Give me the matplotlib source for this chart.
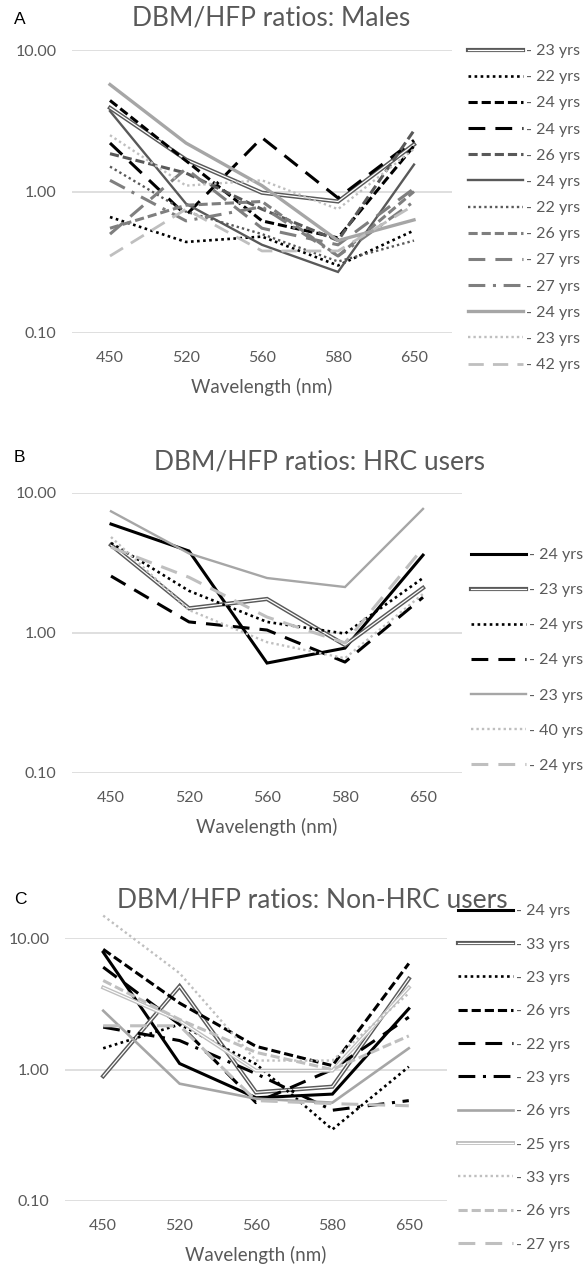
import numpy as np
import matplotlib
matplotlib.use("Agg")
import matplotlib.pyplot as plt
from matplotlib.legend_handler import HandlerTuple

plt.rcParams['font.family'] = ['Lato', 'DejaVu Sans']

wavelengths = ["450", "520", "560", "580", "650"]

# --- Males ---
males_ages = ["23", "22", "24", "24", "26", "24", "22", "26", "27", "27", "24", "23", "42"]
males_vals = [
    [3.9, 1.68, 0.98, 0.85, 2.15],
    [0.66, 0.44, 0.48, 0.30, 0.53],
    [4.4, 1.65, 0.62, 0.47, 2.1],
    [2.2, 0.68, 2.4, 0.90, 2.3],
    [1.85, 1.35, 0.75, 0.45, 2.7],
    [3.7, 0.82, 0.42, 0.27, 1.55],
    [1.5, 0.72, 0.50, 0.32, 0.45],
    [0.55, 0.80, 0.85, 0.35, 1.0],
    [0.50, 1.45, 0.55, 0.42, 1.05],
    [1.2, 0.62, 0.78, 0.35, 0.85],
    [5.7, 2.2, 1.1, 0.45, 0.63],
    [2.5, 1.1, 1.2, 0.75, 2.0],
    [0.35, 0.75, 0.38, 0.38, 0.80],
]

# --- HRC users ---
hrc_ages = ["24", "23", "24", "24", "23", "40", "24"]
hrc_vals = [
    [6.0, 3.85, 0.61, 0.78, 3.6],
    [4.25, 1.5, 1.75, 0.82, 2.1],
    [4.4, 2.0, 1.2, 0.99, 2.47],
    [2.55, 1.2, 1.05, 0.62, 1.8],
    [7.4, 3.7, 2.47, 2.13, 7.7],
    [4.85, 1.46, 0.86, 0.66, 1.9],
    [4.1, 2.5, 1.3, 0.85, 4.05],
]

# --- Non-HRC users ---
non_ages = ["24", "33", "23", "26", "22", "23", "26", "25", "33", "26", "27"]
non_vals = [
    [7.8, 1.11, 0.61, 0.65, 2.9],
    [0.89, 4.3, 0.67, 0.74, 4.9],
    [1.45, 2.2, 1.1, 0.35, 1.05],
    [8.2, 3.2, 1.5, 1.07, 6.4],
    [6.0, 2.2, 0.56, 1.0, 2.5],
    [2.1, 1.66, 0.93, 0.49, 0.58],
    [2.8, 0.78, 0.60, 0.56, 1.45],
    [4.2, 2.35, 0.98, 0.98, 4.2],
    [14.8, 5.4, 1.17, 1.17, 3.8],
    [4.75, 2.4, 1.35, 1.0, 1.8],
    [2.15, 2.15, 0.58, 0.55, 0.53],
]

BLACK = "#000000"
DARK = "#595959"
MID = "#7f7f7f"
LIGHT = "#a6a6a6"
PALE = "#bfbfbf"
TXT = "#595959"

DOT = (0, (1, 1.3))
SDASH = (0, (3, 1.3))
LDASH = (0, (5.5, 3.3))
DASHDOT = (0, (5.5, 2.5, 1, 2.5))

# (colour, linestyle, linewidth, double)
males_sty = [
    (DARK, "-", 3.0, True), (BLACK, DOT, 1.9, False), (BLACK, SDASH, 2.2, False),
    (BLACK, LDASH, 2.2, False), (DARK, SDASH, 2.2, False), (DARK, "-", 1.7, False),
    (DARK, DOT, 1.7, False), (MID, SDASH, 2.2, False), (MID, LDASH, 2.2, False),
    (MID, DASHDOT, 2.2, False), (LIGHT, "-", 2.4, False), (PALE, DOT, 1.7, False),
    (PALE, LDASH, 2.0, False),
]
hrc_sty = [
    (BLACK, "-", 2.2, False), (DARK, "-", 3.0, True), (BLACK, DOT, 1.9, False),
    (BLACK, LDASH, 2.2, False), (LIGHT, "-", 1.7, False), (PALE, DOT, 1.7, False),
    (PALE, LDASH, 2.2, False),
]
non_sty = [
    (BLACK, "-", 2.2, False), (DARK, "-", 3.0, True), (BLACK, DOT, 1.9, False),
    (BLACK, SDASH, 2.2, False), (BLACK, LDASH, 2.2, False), (BLACK, DASHDOT, 2.2, False),
    (LIGHT, "-", 1.9, False), (PALE, "-", 2.8, True), (PALE, DOT, 1.7, False),
    (PALE, SDASH, 2.2, False), (PALE, LDASH, 2.2, False),
]

W, H = 586, 1268
fig = plt.figure(figsize=(W / 100, H / 100), dpi=100)


def px_axes(left, top, right, bottom):
    return fig.add_axes([left / W, 1 - bottom / H, (right - left) / W, (bottom - top) / H])


def draw_panel(ax, vals, ages, styles, letter, title, title_xy, letter_y,
               legend_xy, spacing):
    x = np.arange(len(wavelengths))
    handles = []
    for v, (c, ls, lw, dbl) in zip(vals, styles):
        ln, = ax.plot(x, v, color=c, ls=ls, lw=lw, clip_on=False,
                      solid_joinstyle="miter", dash_capstyle="butt")
        if dbl:
            inner, = ax.plot(x, v, color="white", lw=lw * 0.3, clip_on=False,
                             solid_joinstyle="miter")
            handles.append((ln, inner))
        else:
            handles.append(ln)
    ax.set_yscale("log")
    ax.set_ylim(0.1, 10)
    ax.set_xlim(-0.5, len(wavelengths) - 0.5)
    ax.set_yticks([0.1, 1, 10])
    ax.set_yticklabels(["0.10", "1.00", "10.00"])
    ax.yaxis.set_minor_locator(matplotlib.ticker.NullLocator())
    ax.set_xticks(x)
    ax.set_xticklabels(wavelengths)
    ax.tick_params(axis="both", length=0, labelsize=11.5, colors=TXT)
    ax.tick_params(axis="y", pad=11)
    ax.tick_params(axis="x", pad=13)
    ax.grid(axis="y", color="#d9d9d9", lw=1.2)
    ax.set_axisbelow(True)
    for s in ax.spines.values():
        s.set_visible(False)
    ax.set_xlabel("Wavelength (nm)", fontsize=13.5, color=TXT, labelpad=9)

    fig.text(title_xy[0] / W, 1 - title_xy[1] / H, title, fontsize=19,
             color=TXT, ha="center", va="center")
    fig.text(14 / W, 1 - letter_y / H, letter, fontsize=12.5, color="black",
             ha="left", va="center", family="Liberation Sans")

    labels = ["- %s yrs" % a for a in ages]
    fig.legend(handles, labels, loc="upper left",
               bbox_to_anchor=(legend_xy[0] / W, 1 - legend_xy[1] / H),
               frameon=False, fontsize=11.5, labelcolor=TXT,
               handlelength=3.45, handletextpad=0.2, borderpad=0, borderaxespad=0,
               labelspacing=spacing,
               handler_map={tuple: HandlerTuple(ndivide=1, pad=0)})


axA = px_axes(72, 50, 452, 333)
draw_panel(axA, males_vals, males_ages, males_sty, "A", "DBM/HFP ratios: Males",
           (271, 18), 19, (468, 44), 0.75)

axB = px_axes(72, 493, 462, 773)
draw_panel(axB, hrc_vals, hrc_ages, hrc_sty, "B", "DBM/HFP ratios: HRC users",
           (319, 462), 458, (471, 548), 1.31)

axC = px_axes(65, 938, 447, 1201)
draw_panel(axC, non_vals, non_ages, non_sty, "C", "DBM/HFP ratios: Non-HRC users",
           (312, 900), 900, (458, 904), 1.2)

fig.savefig("out.png", dpi=100)
